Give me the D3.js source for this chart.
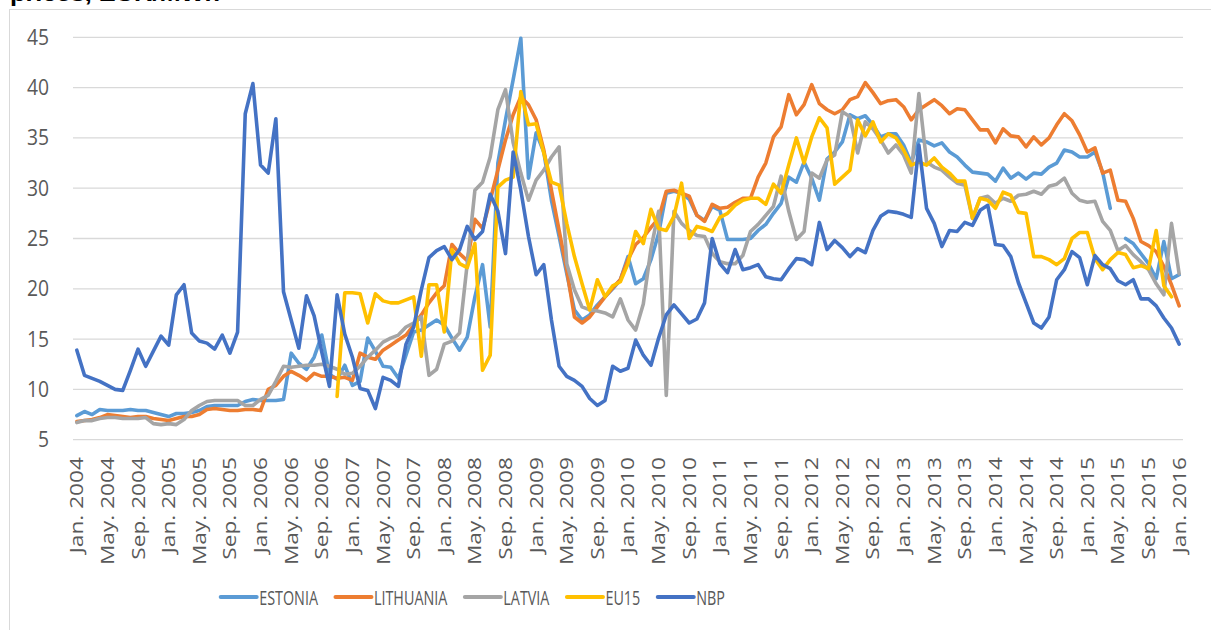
<!DOCTYPE html>
<html>
<head>
<meta charset="utf-8">
<script src="https://cdn.jsdelivr.net/npm/d3@7"></script>
<style>
  body { margin: 0; background: #fff; }
  svg { display: block; }
</style>
</head>
<body>
<svg id="chart" width="1211" height="630"></svg>
<script>
// monthly series, Jan 2004 .. Jan 2016 (145 months)
const estonia = [
  7.4, 7.8, 7.5, 8.0, 7.9, 7.9, 7.9, 8.0, 7.9, 7.9, 7.7, 7.5,
  7.3, 7.6, 7.6, 7.7, 7.9, 8.3, 8.4, 8.4, 8.4, 8.4, 8.8, 9.0,
  8.9, 8.9, 8.9, 9.0, 13.6, 12.6, 12.0, 13.2, 15.4, 11.5, 11.0, 12.4,
  10.4, 10.8, 15.1, 13.8, 12.3, 12.2, 11.1, 13.4, 15.7, 15.9, 16.4, 16.9,
  16.4, 15.1, 13.9, 15.2, 19.2, 22.4, 16.2, 32.5, 36.8, 40.8, 44.9, 31.0,
  35.5, 33.6, 28.8, 25.2, 21.5, 17.9, 16.9, 17.4, 18.4, 19.2, 20.0, 20.9,
  23.2, 20.5, 21.0, 22.9, 25.5, 29.5, 29.7, 29.5, 28.9, 27.3, 26.8, 28.2,
  27.8, 24.9, 24.9, 24.9, 25.0, 25.8, 26.4, 27.5, 28.5, 31.1, 30.6, 32.6,
  31.0, 28.8, 32.9, 33.6, 34.6, 37.3, 36.9, 37.2, 36.3, 35.1, 35.4, 35.4,
  34.3, 32.5, 34.8, 34.6, 34.2, 34.5, 33.6, 33.1, 32.3, 31.6, 31.5, 31.4,
  30.7, 32.0, 31.0, 31.5, 30.9, 31.5, 31.4, 32.1, 32.5, 33.8, 33.6, 33.1,
  33.1, 33.6, 31.6, 28.0, null, 25.0, 24.5, 23.5, 22.5, 21.0, 24.7, 21.0,
  21.4
];
const lithuania = [
  6.8, 6.9, 7.0, 7.2, 7.5, 7.4, 7.3, 7.2, 7.3, 7.3, 7.1, 7.0,
  6.9, 7.1, 7.3, 7.3, 7.5, 8.0, 8.1, 8.0, 7.9, 7.9, 8.0, 8.0,
  7.9, 10.0, 10.4, 11.3, 11.8, 11.4, 10.9, 11.6, 11.3, 11.3, 11.1, 11.2,
  10.9, 13.6, 13.2, 13.0, 13.9, 14.4, 14.9, 15.4, 16.4, 17.4, 18.6, 19.6,
  20.3, 24.4, 23.5, 22.8, 26.9, 26.0, 28.8, 31.8, 34.8, 37.3, 39.1, 38.3,
  36.8, 33.8, 29.8, 25.8, 21.9, 17.2, 16.6, 17.2, 18.2, 19.2, 20.1, 20.9,
  22.9, 24.4, 25.1, 26.1, 27.0, 29.7, 29.8, 29.5, 29.2, 27.3, 26.7, 28.4,
  28.0, 28.1, 28.6, 29.0, 29.0, 31.1, 32.5, 35.1, 36.1, 39.3, 37.3, 38.3,
  40.3, 38.4, 37.8, 37.4, 37.8, 38.8, 39.1, 40.5, 39.5, 38.4, 38.7, 38.8,
  38.1, 36.8, 37.8, 38.3, 38.8, 38.2, 37.4, 37.9, 37.8, 36.8, 35.8, 35.8,
  34.5, 35.9, 35.2, 35.1, 34.1, 35.1, 34.3, 35.0, 36.3, 37.4, 36.7, 35.3,
  33.6, 34.0, 31.5, 31.8, 28.8, 28.7, 27.0, 24.7, 24.3, 23.7, 22.2, 20.4,
  18.3
];
const latvia = [
  6.7, 6.9, 6.9, 7.1, 7.2, 7.2, 7.1, 7.1, 7.1, 7.2, 6.6, 6.5,
  6.6, 6.5, 7.0, 7.9, 8.4, 8.8, 8.9, 8.9, 8.9, 8.9, 8.4, 8.4,
  9.0, 9.4, 10.8, 12.3, 12.2, 12.3, 12.4, 12.4, 12.5, 12.3, 12.0, 11.5,
  11.6, 12.3, 13.2, 13.9, 14.7, 15.1, 15.4, 16.2, 16.6, 17.2, 11.4, 12.0,
  14.5, 14.8, 15.6, 22.5, 29.8, 30.6, 33.1, 37.8, 39.8, 34.5, 31.5, 28.8,
  30.8, 31.8, 33.1, 34.1, 22.5, 19.9, 18.2, 17.9, 17.8, 17.6, 17.2, 19.0,
  16.9, 15.9, 18.5, 24.0, 27.7, 9.4, 27.7, 26.5, 25.8, 25.3, 25.2, 23.5,
  22.7, 22.5, 22.5, 23.3, 25.7, 26.4, 27.3, 28.2, 31.2, 27.7, 24.9, 25.7,
  31.5, 31.0, 32.8, 33.3, 37.6, 37.1, 33.5, 36.6, 35.9, 34.8, 33.5, 34.3,
  33.3, 31.5, 39.4, 32.6, 32.1, 31.8, 31.1, 30.5, 30.3, 27.0, 29.0, 29.2,
  28.5, 29.0, 28.7, 29.3, 29.4, 29.7, 29.4, 30.2, 30.4, 31.0, 29.5, 28.8,
  28.6, 28.7, 26.7, 25.8, 23.8, 24.3, 23.4, 22.7, 21.9, 20.5, 19.4, 26.5,
  21.5
];
const eu15 = [
  null, null, null, null, null, null, null, null, null, null, null, null,
  null, null, null, null, null, null, null, null, null, null, null, null,
  null, null, null, null, null, null, null, null, null, null, 9.3, 19.6,
  19.6, 19.5, 16.6, 19.5, 18.8, 18.6, 18.6, 18.9, 19.2, 13.3, 20.4, 20.4,
  15.7, 23.9, 22.5, 22.1, 24.5, 11.9, 13.4, 30.1, 30.8, 31.1, 39.6, 36.3,
  36.4, 33.5, 30.6, 30.3, 26.5, 23.2, 20.5, 17.9, 20.9, 19.2, 20.3, 20.7,
  22.5, 25.7, 24.5, 27.9, 26.0, 25.8, 27.2, 30.5, 25.0, 26.2, 26.0, 25.7,
  27.1, 27.5, 28.3, 28.8, 29.0, 29.0, 28.4, 30.4, 29.5, 32.3, 35.0, 32.5,
  35.1, 37.0, 36.0, 30.4, 31.1, 31.8, 36.8, 35.2, 36.6, 34.6, 35.4, 35.0,
  33.8, 32.3, 32.6, 32.3, 33.0, 32.1, 31.5, 30.7, 30.7, 27.0, 29.0, 28.8,
  28.0, 29.6, 29.3, 27.6, 27.5, 23.2, 23.2, 22.9, 22.4, 23.0, 25.0, 25.6,
  25.6, 23.0, 21.9, 22.9, 23.6, 23.4, 22.1, 22.3, 22.0, 25.8, 20.3, 19.2,
  null
];
const nbp = [
  13.9, 11.4, 11.1, 10.8, 10.4, 10.0, 9.9, 11.9, 14.0, 12.3, 13.8, 15.3,
  14.4, 19.4, 20.4, 15.6, 14.8, 14.6, 14.0, 15.4, 13.6, 15.7, 37.4, 40.4,
  32.3, 31.5, 36.9, 19.7, 16.9, 14.1, 19.3, 17.3, 13.7, 10.3, 19.4, 15.5,
  13.2, 10.1, 9.9, 8.1, 11.2, 10.9, 10.3, 14.5, 16.2, 19.9, 23.1, 23.8,
  24.2, 22.9, 23.9, 26.2, 24.9, 25.7, 29.4, 27.7, 23.5, 33.6, 29.8, 25.2,
  21.4, 22.4, 16.9, 12.3, 11.3, 10.9, 10.3, 9.1, 8.4, 8.9, 12.3, 11.8,
  12.1, 14.9, 13.4, 12.4, 15.1, 17.4, 18.4, 17.5, 16.6, 17.0, 18.6, 25.0,
  22.5, 21.6, 23.9, 21.9, 22.1, 22.4, 21.2, 21.0, 20.9, 22.0, 23.0, 22.9,
  22.4, 26.6, 23.9, 24.8, 24.1, 23.2, 24.0, 23.6, 25.8, 27.2, 27.7, 27.6,
  27.4, 27.1, 34.3, 28.0, 26.5, 24.2, 25.8, 25.7, 26.6, 26.3, 27.8, 28.3,
  24.4, 24.3, 23.2, 20.6, 18.6, 16.6, 16.1, 17.2, 20.9, 21.9, 23.7, 23.1,
  20.4, 23.3, 22.4, 22.0, 20.8, 20.4, 20.9, 19.0, 19.0, 18.3, 17.1, 16.1,
  14.5
];

const seriesNames = ["ESTONIA", "LITHUANIA", "LATVIA", "EU15", "NBP"];
const seriesColors = ["#5B9BD5", "#ED7D31", "#A5A5A5", "#FFC000", "#4472C4"];
const seriesValues = [estonia, lithuania, latvia, eu15, nbp];

const yTicks = [5, 10, 15, 20, 25, 30, 35, 40, 45];
// one label every four months
const tickLabels = [
  "Jan. 2004", "May. 2004", "Sep. 2004", "Jan. 2005", "May. 2005", "Sep. 2005",
  "Jan. 2006", "May. 2006", "Sep. 2006", "Jan. 2007", "May. 2007", "Sep. 2007",
  "Jan. 2008", "May. 2008", "Sep. 2008", "Jan. 2009", "May. 2009", "Sep. 2009",
  "Jan. 2010", "May. 2010", "Sep. 2010", "Jan. 2011", "May. 2011", "Sep. 2011",
  "Jan. 2012", "May. 2012", "Sep. 2012", "Jan. 2013", "May. 2013", "Sep. 2013",
  "Jan. 2014", "May. 2014", "Sep. 2014", "Jan. 2015", "May. 2015", "Sep. 2015",
  "Jan. 2016"
];

const months = d3.range(estonia.length); // month index 0..144

const svg = d3.select("#chart");
const font = "'Open Sans', sans-serif";

// outer chart border (runs off the bottom/right of the picture)
svg.append("rect")
  .attr("x", 9.5).attr("y", 9.5)
  .attr("width", 1215).attr("height", 640)
  .attr("fill", "none")
  .attr("stroke", "#D9D9D9")
  .attr("stroke-width", 1);

// title, cut off at the top edge like in the source
svg.append("text")
  .attr("x", 10).attr("y", 1)
  .attr("font-family", "'Liberation Sans', Arial, sans-serif")
  .attr("font-weight", "bold")
  .attr("font-size", 22)
  .attr("textLength", 210)
  .attr("lengthAdjust", "spacingAndGlyphs")
  .attr("fill", "#000")
  .text("prices, EUR/MWh");

const x = d3.scalePoint()
  .domain(months)
  .range([73, 1183])
  .padding(0.5);

const y = d3.scaleLinear()
  .domain([5, 45])
  .range([439.7, 37.3]);

// gridlines
svg.append("g")
  .selectAll("line")
  .data(yTicks)
  .join("line")
  .attr("x1", 73).attr("x2", 1183)
  .attr("y1", d => y(d)).attr("y2", d => y(d))
  .attr("stroke", "#D9D9D9")
  .attr("stroke-width", 1.3);

// y labels
svg.append("g")
  .selectAll("text")
  .data(yTicks)
  .join("text")
  .attr("transform", d => `translate(49,${y(d)}) scale(0.92,1)`)
  .attr("dy", "0.36em")
  .attr("text-anchor", "end")
  .attr("font-family", font)
  .attr("font-size", 21)
  .attr("fill", "#595959")
  .text(d => d);

// x labels, rotated
svg.append("g")
  .selectAll("text")
  .data(tickLabels)
  .join("text")
  .attr("transform", (d, i) => `translate(${x(i * 4)},457) rotate(-90) scale(1.26,1)`)
  .attr("dy", "0.36em")
  .attr("text-anchor", "end")
  .attr("font-family", font)
  .attr("font-size", 18)
  .attr("fill", "#595959")
  .text(d => d);

// lines
const line = d3.line()
  .defined(d => d[1] != null)
  .x(d => x(d[0]))
  .y(d => y(d[1]));

seriesValues.forEach((vals, s) => {
  svg.append("path")
    .datum(vals.map((v, i) => [i, v]))
    .attr("d", line)
    .attr("fill", "none")
    .attr("stroke", seriesColors[s])
    .attr("stroke-width", 3.6)
    .attr("stroke-linejoin", "round")
    .attr("stroke-linecap", "round");
});

// legend
const legend = svg.append("g");
let lx = 220.7;
seriesNames.forEach((name, s) => {
  legend.append("line")
    .attr("x1", lx).attr("x2", lx + 36)
    .attr("y1", 597).attr("y2", 597)
    .attr("stroke", seriesColors[s])
    .attr("stroke-width", 4)
    .attr("stroke-linecap", "round");
  const t = legend.append("text")
    .attr("transform", `translate(${lx + 38.5},605) scale(0.7,1)`)
    .attr("font-family", font)
    .attr("font-size", 20.5)
    .attr("fill", "#595959")
    .text(name);
  const w = t.node().getComputedTextLength() * 0.7;
  lx += 38.5 + w + 17.5;
});
</script>
</body>
</html>
